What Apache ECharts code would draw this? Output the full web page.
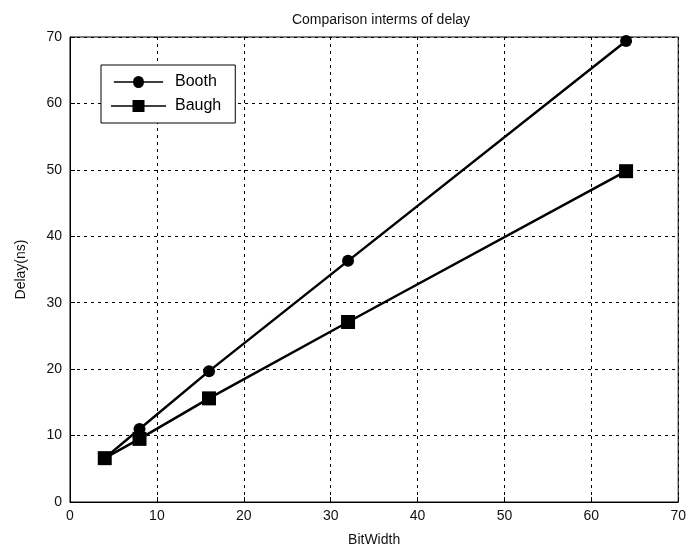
<!DOCTYPE html>
<html>
<head>
<meta charset="utf-8">
<script src="https://cdn.jsdelivr.net/npm/echarts@6/dist/echarts.min.js"></script>
<style>html,body{margin:0;padding:0;background:#fff}#c{width:689px;height:552px}</style>
</head>
<body>
<div id="c"></div>
<script>
var bitWidth = [4, 8, 16, 32, 64];
var boothDelay = [6.6, 11.0, 19.7, 36.3, 69.4];
var baughDelay = [6.6, 9.5, 15.6, 27.1, 49.8];
var xTicks = [0, 10, 20, 30, 40, 50, 60, 70];
var yTicks = [0, 10, 20, 30, 40, 50, 60, 70];

function pairs(xs, ys) { return xs.map(function (x, i) { return [x, ys[i]]; }); }

var chart = echarts.init(document.getElementById('c'));
var font = 'Liberation Sans, Arial, sans-serif';
chart.setOption({
  backgroundColor: '#fff',
  animation: false,
  title: {
    text: 'Comparison interms of delay',
    left: 376, top: 8, textAlign: 'center',
    textStyle: { fontFamily: font, fontSize: 14, fontWeight: 'normal', color: '#111' }
  },
  legend: {
    left: 101, top: 65, orient: 'vertical',
    padding: [8, 14, 8, 10], itemGap: 6,
    itemWidth: 55, itemHeight: 12,
    borderColor: '#000', borderWidth: 1, backgroundColor: '#fff',
    textStyle: { fontFamily: font, fontSize: 16, color: '#000', lineHeight: 18, padding: [0, 0, 0, 4] },
    data: [{ name: 'Booth', icon: 'path://M0,5.3H21.5 A5,5 0 1 1 33.5,5.3 H55 V6.7 H33.5 A5,5 0 1 1 21.5,6.7 H0Z' },
           { name: 'Baugh', icon: 'path://M0,5.3H21.5V0H33.5V5.3H55V6.7H33.5V12H21.5V6.7H0Z' }]
  },
  grid: { left: 70, top: 37, width: 612, height: 467, show: true, borderColor: '#000', borderWidth: 1 },
  xAxis: {
    type: 'value', min: 0, max: 70, interval: 10,
    name: 'BitWidth', nameLocation: 'middle', nameGap: 31,
    nameTextStyle: { fontFamily: font, fontSize: 14, color: '#111' },
    axisLine: { lineStyle: { color: '#000' } },
    axisTick: { inside: true, length: 5, lineStyle: { color: '#000' } },
    axisLabel: { fontFamily: font, fontSize: 14, color: '#111', margin: 7,
      formatter: function (v) { return xTicks.indexOf(v) >= 0 ? String(v) : ''; } },
    splitLine: { lineStyle: { color: '#000', type: [3, 4], width: 1 } }
  },
  yAxis: {
    type: 'value', min: 0, max: 70, interval: 10,
    name: 'Delay(ns)', nameLocation: 'middle', nameGap: 42,
    nameTextStyle: { fontFamily: font, fontSize: 14, color: '#111' },
    axisLine: { lineStyle: { color: '#000' } },
    axisTick: { inside: true, length: 5, lineStyle: { color: '#000' } },
    axisLabel: { fontFamily: font, fontSize: 14, color: '#111', margin: 8,
      formatter: function (v) { return yTicks.indexOf(v) >= 0 ? String(v) : ''; } },
    splitLine: { lineStyle: { color: '#000', type: [3, 4], width: 1 } }
  },
  series: [
    { name: 'Booth', type: 'line', data: pairs(bitWidth, boothDelay),
      symbol: 'circle', symbolSize: 12, color: '#000',
      lineStyle: { width: 2.5, color: '#000' }, itemStyle: { color: '#000' } },
    { name: 'Baugh', type: 'line', data: pairs(bitWidth, baughDelay),
      symbol: 'rect', symbolSize: 14, color: '#000',
      lineStyle: { width: 2.5, color: '#000' }, itemStyle: { color: '#000' } }
  ]
});
</script>
</body>
</html>
